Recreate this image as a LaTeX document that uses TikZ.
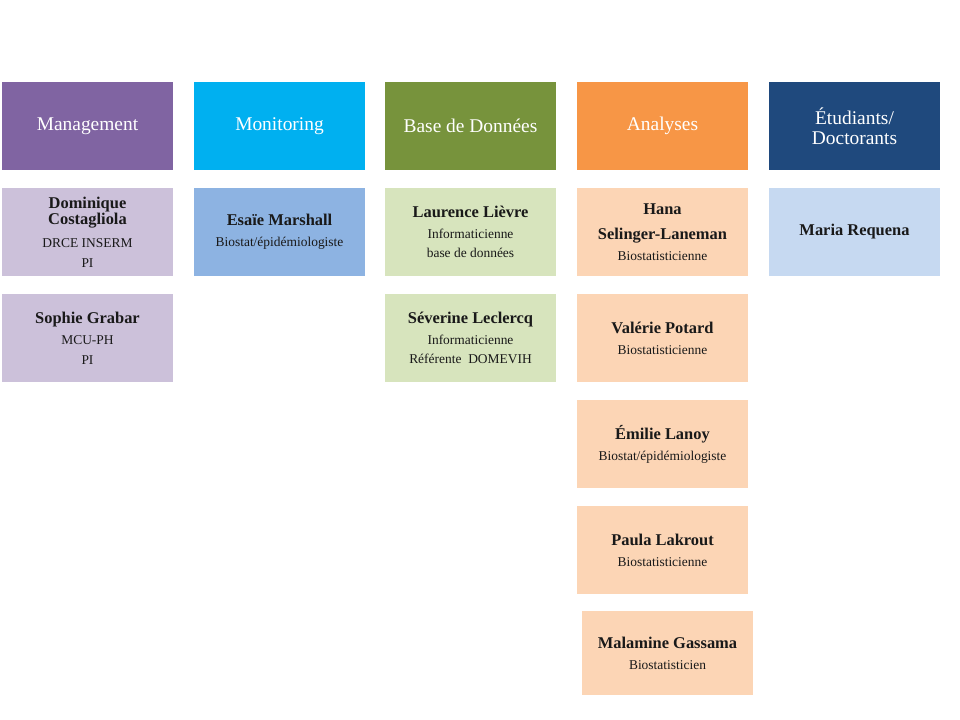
\documentclass[tikz,border=0pt]{standalone}
\usepackage{fontspec}
\setmainfont{Liberation Serif}
\usetikzlibrary{positioning}
\definecolor{mgmt}{HTML}{8064A2}
\definecolor{mgmtlight}{HTML}{CCC1DA}
\definecolor{monit}{HTML}{00B0F0}
\definecolor{monitlight}{HTML}{8DB3E2}
\definecolor{bdd}{HTML}{77933C}
\definecolor{bddlight}{HTML}{D7E4BD}
\definecolor{ana}{HTML}{F79646}
\definecolor{analight}{HTML}{FCD5B5}
\definecolor{etu}{HTML}{1F497D}
\definecolor{etulight}{HTML}{C6D9F1}
\newcommand{\who}[1]{{\fontsize{16.5}{17}\bfseries #1}}
\tikzset{
  head/.style={fill=#1, text=white, minimum width=171bp, minimum height=88bp,
    inner sep=0pt, outer sep=0pt, align=center, font=\fontsize{19.5}{20}\selectfont},
  card/.style={fill=#1, text=black!90, minimum width=171bp, minimum height=88bp,
    inner sep=0pt, outer sep=0pt, align=center, font=\fontsize{13.5}{21}\selectfont},
}
\begin{document}
\begin{tikzpicture}[x=1bp,y=-1bp,node distance=18bp]
\useasboundingbox (0,0) rectangle (960,720);
% column headers
\node[head=mgmt, anchor=north west] (hmgmt) at (2,82) {Management};
\node[head=monit, anchor=north west] (hmonit) at (194,82) {Monitoring};
\node[head=bdd, anchor=north west] (hbdd) at (385,82) {Base de Données};
\node[head=ana, anchor=north west] (hana) at (577,82) {Analyses};
\node[head=etu, anchor=north west] (hetu) at (769,82) {Étudiants/\\Doctorants};
% management
\node[card=mgmtlight, below=of hmgmt] (costagliola)
  {\who{Dominique}\\[-4.5pt]\who{Costagliola}\\[1.5pt]DRCE INSERM\\[-1pt]PI};
\node[card=mgmtlight, below=of costagliola] (grabar)
  {\who{Sophie Grabar}\\MCU-PH\\[-1pt]PI};
% monitoring
\node[card=monitlight, below=of hmonit] (marshall)
  {\who{Esaïe Marshall}\\Biostat/épidémiologiste};
% base de donnees
\node[card=bddlight, below=of hbdd] (lievre)
  {\who{Laurence Lièvre}\\Informaticienne\\[-1.5pt]base de données};
\node[card=bddlight, below=of lievre] (leclercq)
  {\who{Séverine Leclercq}\\Informaticienne\\[-2pt]Référente~~DOMEVIH};
% analyses
\node[card=analight, below=of hana] (selinger)
  {\who{Hana}\\[4pt]\who{Selinger-Laneman}\\Biostatisticienne};
\node[card=analight, below=of selinger] (potard)
  {\who{Valérie Potard}\\Biostatisticienne};
\node[card=analight, below=of potard] (lanoy)
  {\who{Émilie Lanoy}\\Biostat/épidémiologiste};
\node[card=analight, below=of lanoy] (lakrout)
  {\who{Paula Lakrout}\\Biostatisticienne};
\node[card=analight, minimum height=84bp, anchor=north west] (gassama) at (582,611)
  {\who{Malamine Gassama}\\Biostatisticien};
% etudiants
\node[card=etulight, below=of hetu] (requena) {\who{Maria Requena}};
\end{tikzpicture}
\end{document}
